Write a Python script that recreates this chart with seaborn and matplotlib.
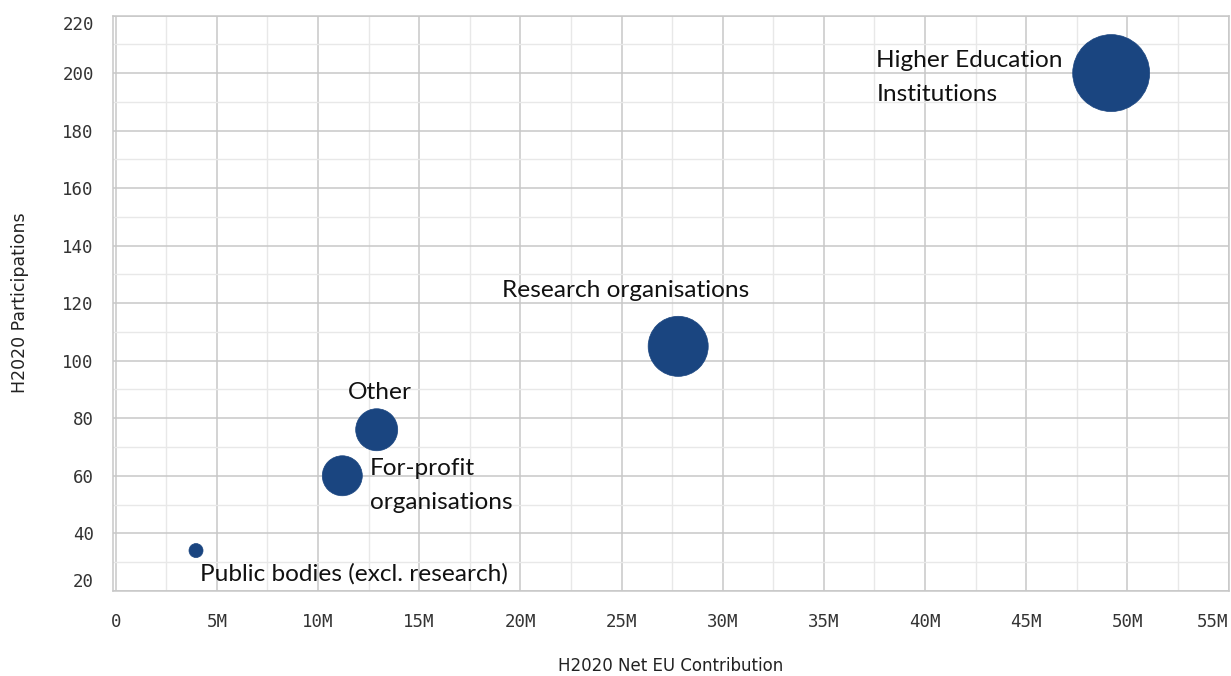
import numpy as np
import matplotlib.pyplot as plt
import matplotlib.ticker as mticker
import pandas as pd
import seaborn as sns

# data
groups = ['Higher Education\nInstitutions', 'Research organisations', 'Other',
          'For-profit\norganisations', 'Public bodies (excl. research)']
contribution = [49.2e6, 27.8e6, 12.9e6, 11.2e6, 3.97e6]
participations = [200, 105, 76, 60, 34]
bubble = [3070, 1870, 915, 830, 102]

# label anchors (left edge, vertical centre) in data units
label_x = [37.6e6, 19.1e6, 11.5e6, 12.55e6, 4.17e6]
label_y = [198.5, 124.5, 89, 56.5, 26]

df = pd.DataFrame({'group': groups, 'contribution': contribution,
                   'participations': participations, 'bubble': bubble})

sns.set_style('white')
plt.rcParams['font.family'] = ['DejaVu Sans']

fig = plt.figure(figsize=(12.31, 6.76), dpi=100)
ax = fig.add_axes([0.092, 0.126, 0.906, 0.851])

sns.scatterplot(data=df, x='contribution', y='participations', size='bubble',
                sizes=(min(bubble), max(bubble)), size_norm=(min(bubble), max(bubble)),
                color='#1a4580', edgecolor='#1a4580', linewidth=0.5,
                alpha=1, legend=False, ax=ax, zorder=3)

for name, lx, ly in zip(groups, label_x, label_y):
    ax.text(lx, ly, name, ha='left', va='center', fontsize=17.6,
            family='Lato', color='#111111', linespacing=1.75, zorder=4)

ax.set_xlim(-0.12e6, 55e6)
ax.set_ylim(20, 220)
ax.xaxis.set_major_locator(mticker.MultipleLocator(5e6))
ax.xaxis.set_minor_locator(mticker.MultipleLocator(2.5e6))
ax.yaxis.set_major_locator(mticker.MultipleLocator(20))
ax.yaxis.set_minor_locator(mticker.MultipleLocator(10))
ax.xaxis.set_major_formatter(mticker.FuncFormatter(
    lambda v, p: '0' if v == 0 else f'{v / 1e6:.0f}M'))

ax.grid(which='major', color='#c8c8c8', linewidth=1.1, zorder=0)
ax.grid(which='minor', color='#e8e8e8', linewidth=1.0, zorder=0)
ax.set_axisbelow(True)
for sp in ax.spines.values():
    sp.set_color('#c8c8c8')
    sp.set_linewidth(1.1)

ax.tick_params(axis='both', which='major', length=8, width=1.1, color='#c8c8c8',
               labelcolor='#333333', labelsize=12.5)
ax.tick_params(axis='both', which='minor', length=0)
ax.tick_params(axis='x', pad=8)
ax.tick_params(axis='y', pad=6)

fig.canvas.draw()
xlabels = ax.get_xticklabels()
ylabels = ax.get_yticklabels()
for lbl in xlabels + ylabels:
    lbl.set_family('DejaVu Sans Mono')
# end labels are pulled inside the figure like in the reference
for lbl in xlabels:
    if lbl.get_text() == '55M':
        lbl.set_ha('right')
for lbl in ylabels:
    if lbl.get_text() == '220':
        lbl.set_va('top')
    elif lbl.get_text() == '20':
        lbl.set_va('bottom')

ax.set_xlabel('H2020 Net EU Contribution', fontsize=12, color='#222222', labelpad=19)
ax.set_ylabel('H2020 Participations', fontsize=12.5, color='#222222', labelpad=24)

fig.savefig('out.png', dpi=100)
